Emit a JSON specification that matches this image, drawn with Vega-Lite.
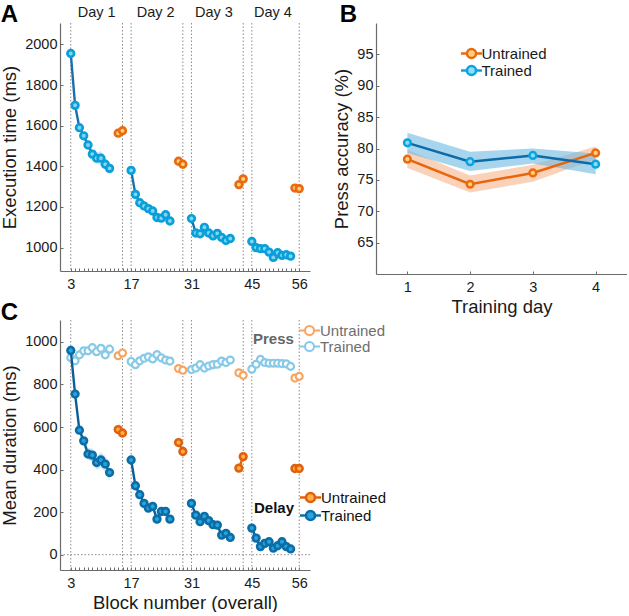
{
  "$schema": "https://vega.github.io/schema/vega-lite/v6.json",
  "background": "white",
  "padding": {"left": 0, "top": 2, "right": 0, "bottom": 0},
  "config": {
    "font": "Liberation Sans",
    "view": {"stroke": null},
    "axis": {"grid": false, "domainColor": "#6b6b6b", "domainWidth": 1.2, "tickColor": "#6b6b6b", "tickSize": -3, "labelFontSize": 14.5, "labelColor": "#1a1a1a", "titleFontSize": 18.5, "titleFontWeight": "normal", "titleColor": "#1a1a1a", "labelFont": "Liberation Sans", "titleFont": "Liberation Sans", "labelOverlap": false, "labelFlush": false, "format": "d"},
    "axisX": {"labelPadding": 9, "titlePadding": 4, "labelOverlap": false},
    "axisY": {"labelPadding": 6, "titlePadding": 5},
    "legend": {"labelFont": "Liberation Sans", "titleFont": "Liberation Sans"},
    "title": {"fontSize": 24, "fontWeight": "bold", "anchor": "start", "frame": "bounds", "color": "#000000", "font": "Liberation Sans"}
  },
  "datasets": {
    "vlines": [{"block": 3}, {"block": 15}, {"block": 17}, {"block": 29}, {"block": 31}, {"block": 43}, {"block": 45}, {"block": 56}],
    "zero": [{"ms": 0, "from": 0.5, "to": 58.5}],
    "days": [{"label": "Day 1", "block": 9}, {"label": "Day 2", "block": 22.7}, {"label": "Day 3", "block": 36.2}, {"label": "Day 4", "block": 49.9}],
    "exec": [
      {"block": 3, "day": 1, "cond": "Trained", "rt": 1955, "lo": 1943, "hi": 1967},
      {"block": 4, "day": 1, "cond": "Trained", "rt": 1700, "lo": 1688, "hi": 1712},
      {"block": 5, "day": 1, "cond": "Trained", "rt": 1590, "lo": 1578, "hi": 1602},
      {"block": 6, "day": 1, "cond": "Trained", "rt": 1550, "lo": 1536, "hi": 1564},
      {"block": 7, "day": 1, "cond": "Trained", "rt": 1505, "lo": 1490, "hi": 1520},
      {"block": 8, "day": 1, "cond": "Trained", "rt": 1460, "lo": 1440, "hi": 1480},
      {"block": 9, "day": 1, "cond": "Trained", "rt": 1440, "lo": 1412, "hi": 1468},
      {"block": 10, "day": 1, "cond": "Trained", "rt": 1440, "lo": 1405, "hi": 1475},
      {"block": 11, "day": 1, "cond": "Trained", "rt": 1410, "lo": 1380, "hi": 1440},
      {"block": 12, "day": 1, "cond": "Trained", "rt": 1390, "lo": 1360, "hi": 1420},
      {"block": 14, "day": 1, "cond": "Untrained", "rt": 1563, "lo": 1551, "hi": 1575},
      {"block": 15, "day": 1, "cond": "Untrained", "rt": 1575, "lo": 1563, "hi": 1587},
      {"block": 17, "day": 2, "cond": "Trained", "rt": 1380, "lo": 1368, "hi": 1392},
      {"block": 18, "day": 2, "cond": "Trained", "rt": 1262, "lo": 1250, "hi": 1274},
      {"block": 19, "day": 2, "cond": "Trained", "rt": 1221, "lo": 1209, "hi": 1233},
      {"block": 20, "day": 2, "cond": "Trained", "rt": 1205, "lo": 1193, "hi": 1217},
      {"block": 21, "day": 2, "cond": "Trained", "rt": 1192, "lo": 1180, "hi": 1204},
      {"block": 22, "day": 2, "cond": "Trained", "rt": 1180, "lo": 1168, "hi": 1192},
      {"block": 23, "day": 2, "cond": "Trained", "rt": 1148, "lo": 1136, "hi": 1160},
      {"block": 24, "day": 2, "cond": "Trained", "rt": 1145, "lo": 1133, "hi": 1157},
      {"block": 25, "day": 2, "cond": "Trained", "rt": 1162, "lo": 1150, "hi": 1174},
      {"block": 26, "day": 2, "cond": "Trained", "rt": 1131, "lo": 1119, "hi": 1143},
      {"block": 28, "day": 2, "cond": "Untrained", "rt": 1425, "lo": 1415, "hi": 1435},
      {"block": 29, "day": 2, "cond": "Untrained", "rt": 1410, "lo": 1400, "hi": 1420},
      {"block": 31, "day": 3, "cond": "Trained", "rt": 1143, "lo": 1131, "hi": 1155},
      {"block": 32, "day": 3, "cond": "Trained", "rt": 1072, "lo": 1060, "hi": 1084},
      {"block": 33, "day": 3, "cond": "Trained", "rt": 1068, "lo": 1056, "hi": 1080},
      {"block": 34, "day": 3, "cond": "Trained", "rt": 1100, "lo": 1088, "hi": 1112},
      {"block": 35, "day": 3, "cond": "Trained", "rt": 1072, "lo": 1060, "hi": 1084},
      {"block": 36, "day": 3, "cond": "Trained", "rt": 1058, "lo": 1046, "hi": 1070},
      {"block": 37, "day": 3, "cond": "Trained", "rt": 1070, "lo": 1058, "hi": 1082},
      {"block": 38, "day": 3, "cond": "Trained", "rt": 1050, "lo": 1038, "hi": 1062},
      {"block": 39, "day": 3, "cond": "Trained", "rt": 1035, "lo": 1023, "hi": 1047},
      {"block": 40, "day": 3, "cond": "Trained", "rt": 1045, "lo": 1033, "hi": 1057},
      {"block": 42, "day": 3, "cond": "Untrained", "rt": 1310, "lo": 1300, "hi": 1320},
      {"block": 43, "day": 3, "cond": "Untrained", "rt": 1338, "lo": 1328, "hi": 1348},
      {"block": 45, "day": 4, "cond": "Trained", "rt": 1030, "lo": 1018, "hi": 1042},
      {"block": 46, "day": 4, "cond": "Trained", "rt": 1000, "lo": 988, "hi": 1012},
      {"block": 47, "day": 4, "cond": "Trained", "rt": 995, "lo": 983, "hi": 1007},
      {"block": 48, "day": 4, "cond": "Trained", "rt": 995, "lo": 983, "hi": 1007},
      {"block": 49, "day": 4, "cond": "Trained", "rt": 978, "lo": 966, "hi": 990},
      {"block": 50, "day": 4, "cond": "Trained", "rt": 952, "lo": 938, "hi": 966},
      {"block": 51, "day": 4, "cond": "Trained", "rt": 975, "lo": 961, "hi": 989},
      {"block": 52, "day": 4, "cond": "Trained", "rt": 962, "lo": 946, "hi": 978},
      {"block": 53, "day": 4, "cond": "Trained", "rt": 965, "lo": 949, "hi": 981},
      {"block": 54, "day": 4, "cond": "Trained", "rt": 958, "lo": 942, "hi": 974},
      {"block": 55, "day": 4, "cond": "Untrained", "rt": 1293, "lo": 1283, "hi": 1303},
      {"block": 56, "day": 4, "cond": "Untrained", "rt": 1290, "lo": 1280, "hi": 1300}
    ],
    "acc": [
      {"day": 1, "cond": "Untrained", "acc": 78.3, "lo": 76.9, "hi": 79.8},
      {"day": 2, "cond": "Untrained", "acc": 74.3, "lo": 73.0, "hi": 75.7},
      {"day": 3, "cond": "Untrained", "acc": 76.1, "lo": 74.7, "hi": 77.4},
      {"day": 4, "cond": "Untrained", "acc": 79.3, "lo": 78.3, "hi": 80.3},
      {"day": 1, "cond": "Trained", "acc": 80.9, "lo": 79.3, "hi": 82.5},
      {"day": 2, "cond": "Trained", "acc": 77.9, "lo": 76.4, "hi": 79.5},
      {"day": 3, "cond": "Trained", "acc": 78.9, "lo": 77.6, "hi": 80.0},
      {"day": 4, "cond": "Trained", "acc": 77.5, "lo": 75.9, "hi": 79.2}
    ],
    "press": [
      {"block": 3, "day": 1, "cond": "Trained", "ms": 926},
      {"block": 4, "day": 1, "cond": "Trained", "ms": 911},
      {"block": 5, "day": 1, "cond": "Trained", "ms": 939},
      {"block": 6, "day": 1, "cond": "Trained", "ms": 958},
      {"block": 7, "day": 1, "cond": "Trained", "ms": 958},
      {"block": 8, "day": 1, "cond": "Trained", "ms": 973},
      {"block": 9, "day": 1, "cond": "Trained", "ms": 954},
      {"block": 10, "day": 1, "cond": "Trained", "ms": 970},
      {"block": 11, "day": 1, "cond": "Trained", "ms": 939},
      {"block": 12, "day": 1, "cond": "Trained", "ms": 966},
      {"block": 14, "day": 1, "cond": "Untrained", "ms": 935},
      {"block": 15, "day": 1, "cond": "Untrained", "ms": 948},
      {"block": 17, "day": 2, "cond": "Trained", "ms": 908},
      {"block": 18, "day": 2, "cond": "Trained", "ms": 893},
      {"block": 19, "day": 2, "cond": "Trained", "ms": 911},
      {"block": 20, "day": 2, "cond": "Trained", "ms": 923},
      {"block": 21, "day": 2, "cond": "Trained", "ms": 930},
      {"block": 22, "day": 2, "cond": "Trained", "ms": 920},
      {"block": 23, "day": 2, "cond": "Trained", "ms": 940},
      {"block": 24, "day": 2, "cond": "Trained", "ms": 925},
      {"block": 25, "day": 2, "cond": "Trained", "ms": 915},
      {"block": 26, "day": 2, "cond": "Trained", "ms": 910},
      {"block": 28, "day": 2, "cond": "Untrained", "ms": 875},
      {"block": 29, "day": 2, "cond": "Untrained", "ms": 867},
      {"block": 31, "day": 3, "cond": "Trained", "ms": 870},
      {"block": 32, "day": 3, "cond": "Trained", "ms": 877},
      {"block": 33, "day": 3, "cond": "Trained", "ms": 893},
      {"block": 34, "day": 3, "cond": "Trained", "ms": 877},
      {"block": 35, "day": 3, "cond": "Trained", "ms": 887},
      {"block": 36, "day": 3, "cond": "Trained", "ms": 893},
      {"block": 37, "day": 3, "cond": "Trained", "ms": 895},
      {"block": 38, "day": 3, "cond": "Trained", "ms": 910},
      {"block": 39, "day": 3, "cond": "Trained", "ms": 903},
      {"block": 40, "day": 3, "cond": "Trained", "ms": 915},
      {"block": 42, "day": 3, "cond": "Untrained", "ms": 855},
      {"block": 43, "day": 3, "cond": "Untrained", "ms": 843},
      {"block": 45, "day": 4, "cond": "Trained", "ms": 872},
      {"block": 46, "day": 4, "cond": "Trained", "ms": 895},
      {"block": 47, "day": 4, "cond": "Trained", "ms": 918},
      {"block": 48, "day": 4, "cond": "Trained", "ms": 903},
      {"block": 49, "day": 4, "cond": "Trained", "ms": 900},
      {"block": 50, "day": 4, "cond": "Trained", "ms": 900},
      {"block": 51, "day": 4, "cond": "Trained", "ms": 900},
      {"block": 52, "day": 4, "cond": "Trained", "ms": 898},
      {"block": 53, "day": 4, "cond": "Trained", "ms": 897},
      {"block": 54, "day": 4, "cond": "Trained", "ms": 885},
      {"block": 55, "day": 4, "cond": "Untrained", "ms": 830},
      {"block": 56, "day": 4, "cond": "Untrained", "ms": 838}
    ],
    "delay": [
      {"block": 3, "day": 1, "cond": "Trained", "ms": 960, "lo": 945, "hi": 975},
      {"block": 4, "day": 1, "cond": "Trained", "ms": 755, "lo": 735, "hi": 775},
      {"block": 5, "day": 1, "cond": "Trained", "ms": 585, "lo": 565, "hi": 605},
      {"block": 6, "day": 1, "cond": "Trained", "ms": 535, "lo": 512, "hi": 558},
      {"block": 7, "day": 1, "cond": "Trained", "ms": 473, "lo": 445, "hi": 501},
      {"block": 8, "day": 1, "cond": "Trained", "ms": 468, "lo": 436, "hi": 500},
      {"block": 9, "day": 1, "cond": "Trained", "ms": 433, "lo": 400, "hi": 466},
      {"block": 10, "day": 1, "cond": "Trained", "ms": 445, "lo": 408, "hi": 482},
      {"block": 11, "day": 1, "cond": "Trained", "ms": 426, "lo": 388, "hi": 464},
      {"block": 12, "day": 1, "cond": "Trained", "ms": 386, "lo": 345, "hi": 427},
      {"block": 14, "day": 1, "cond": "Untrained", "ms": 588, "lo": 555, "hi": 621},
      {"block": 15, "day": 1, "cond": "Untrained", "ms": 572, "lo": 547, "hi": 597},
      {"block": 17, "day": 2, "cond": "Trained", "ms": 445, "lo": 430, "hi": 460},
      {"block": 18, "day": 2, "cond": "Trained", "ms": 324, "lo": 309, "hi": 339},
      {"block": 19, "day": 2, "cond": "Trained", "ms": 282, "lo": 267, "hi": 297},
      {"block": 20, "day": 2, "cond": "Trained", "ms": 241, "lo": 226, "hi": 256},
      {"block": 21, "day": 2, "cond": "Trained", "ms": 219, "lo": 204, "hi": 234},
      {"block": 22, "day": 2, "cond": "Trained", "ms": 227, "lo": 212, "hi": 242},
      {"block": 23, "day": 2, "cond": "Trained", "ms": 167, "lo": 152, "hi": 182},
      {"block": 24, "day": 2, "cond": "Trained", "ms": 203, "lo": 188, "hi": 218},
      {"block": 25, "day": 2, "cond": "Trained", "ms": 203, "lo": 188, "hi": 218},
      {"block": 26, "day": 2, "cond": "Trained", "ms": 167, "lo": 152, "hi": 182},
      {"block": 28, "day": 2, "cond": "Untrained", "ms": 527, "lo": 517, "hi": 537},
      {"block": 29, "day": 2, "cond": "Untrained", "ms": 485, "lo": 475, "hi": 495},
      {"block": 31, "day": 3, "cond": "Trained", "ms": 241, "lo": 226, "hi": 256},
      {"block": 32, "day": 3, "cond": "Trained", "ms": 186, "lo": 171, "hi": 201},
      {"block": 33, "day": 3, "cond": "Trained", "ms": 155, "lo": 140, "hi": 170},
      {"block": 34, "day": 3, "cond": "Trained", "ms": 180, "lo": 165, "hi": 195},
      {"block": 35, "day": 3, "cond": "Trained", "ms": 160, "lo": 145, "hi": 175},
      {"block": 36, "day": 3, "cond": "Trained", "ms": 141, "lo": 126, "hi": 156},
      {"block": 37, "day": 3, "cond": "Trained", "ms": 139, "lo": 124, "hi": 154},
      {"block": 38, "day": 3, "cond": "Trained", "ms": 92, "lo": 77, "hi": 107},
      {"block": 39, "day": 3, "cond": "Trained", "ms": 100, "lo": 85, "hi": 115},
      {"block": 40, "day": 3, "cond": "Trained", "ms": 81, "lo": 66, "hi": 96},
      {"block": 42, "day": 3, "cond": "Untrained", "ms": 407, "lo": 397, "hi": 417},
      {"block": 43, "day": 3, "cond": "Untrained", "ms": 461, "lo": 451, "hi": 471},
      {"block": 45, "day": 4, "cond": "Trained", "ms": 125, "lo": 110, "hi": 140},
      {"block": 46, "day": 4, "cond": "Trained", "ms": 78, "lo": 63, "hi": 93},
      {"block": 47, "day": 4, "cond": "Trained", "ms": 38, "lo": 23, "hi": 53},
      {"block": 48, "day": 4, "cond": "Trained", "ms": 53, "lo": 38, "hi": 68},
      {"block": 49, "day": 4, "cond": "Trained", "ms": 61, "lo": 46, "hi": 76},
      {"block": 50, "day": 4, "cond": "Trained", "ms": 31, "lo": 14, "hi": 48},
      {"block": 51, "day": 4, "cond": "Trained", "ms": 42, "lo": 25, "hi": 59},
      {"block": 52, "day": 4, "cond": "Trained", "ms": 61, "lo": 44, "hi": 78},
      {"block": 53, "day": 4, "cond": "Trained", "ms": 38, "lo": 20, "hi": 56},
      {"block": 54, "day": 4, "cond": "Trained", "ms": 27, "lo": 8, "hi": 46},
      {"block": 55, "day": 4, "cond": "Untrained", "ms": 405, "lo": 395, "hi": 415},
      {"block": 56, "day": 4, "cond": "Untrained", "ms": 405, "lo": 395, "hi": 415}
    ]
  },
  "columns": 2,
  "spacing": {"row": 46, "column": 66},
  "bounds": "flush",
  "concat": [
    {
      "width": 250,
      "height": 248,
      "title": {"text": "A", "offset": -22},
      "encoding": {
        "x": {"field": "block", "type": "quantitative", "scale": {"domain": [0.5, 58.5]}, "axis": {"values": [3,4,5,6,7,8,9,10,11,12,13,14,15,16,17,18,19,20,21,22,23,24,25,26,27,28,29,30,31,32,33,34,35,36,37,38,39,40,41,42,43,44,45,46,47,48,49,50,51,52,53,54,55,56], "labelExpr": "(datum.value == 3 || datum.value == 17 || datum.value == 31 || datum.value == 45 || datum.value == 56) ? datum.label : ''", "title": null, "labelFlush": false, "labelOverlap": false, "labelBound": false}}
      },
      "layer": [
        {
          "data": {"name": "vlines"},
          "mark": {"type": "rule", "color": "#8a8a8a", "strokeWidth": 1, "strokeDash": [1.5, 2]}
        },
        {
          "data": {"name": "exec"},
          "mark": {"type": "area", "opacity": 0.45},
          "encoding": {
            "y": {"field": "lo", "type": "quantitative", "stack": null, "scale": {"domain": [885, 2105]}, "axis": {"values": [1000, 1200, 1400, 1600, 1800, 2000], "title": "Execution time (ms)"}},
            "y2": {"field": "hi"},
            "fill": {"field": "cond", "type": "nominal", "scale": {"domain": ["Untrained", "Trained"], "range": ["#f7b07a", "#8fd0ef"]}, "legend": null},
            "detail": {"field": "day", "type": "nominal"}
          }
        },
        {
          "data": {"name": "exec"},
          "mark": {"type": "line", "strokeWidth": 2.4},
          "encoding": {
            "y": {"field": "rt", "type": "quantitative", "scale": {"domain": [885, 2105]}, "axis": {"values": [1000, 1200, 1400, 1600, 1800, 2000], "title": "Execution time (ms)"}},
            "color": {"field": "cond", "type": "nominal", "scale": {"domain": ["Untrained", "Trained"], "range": ["#ea6a10", "#1a6fae"]}, "legend": null},
            "detail": {"field": "day", "type": "nominal"}
          }
        },
        {
          "data": {"name": "exec"},
          "mark": {"type": "point", "filled": true, "size": 44, "strokeWidth": 2.7, "opacity": 1},
          "encoding": {
            "y": {"field": "rt", "type": "quantitative", "scale": {"domain": [885, 2105]}, "axis": {"values": [1000, 1200, 1400, 1600, 1800, 2000], "title": "Execution time (ms)"}},
            "stroke": {"field": "cond", "type": "nominal", "scale": {"domain": ["Untrained", "Trained"], "range": ["#ea6a10", "#0a9fd8"]}, "legend": null},
            "fill": {"field": "cond", "type": "nominal", "scale": {"domain": ["Untrained", "Trained"], "range": ["#ffd27a", "#7fd6f5"]}, "legend": null}
          }
        },
        {
          "data": {"name": "days"},
          "mark": {"type": "text", "fontSize": 14.5, "baseline": "middle", "align": "center", "color": "#1a1a1a"},
          "encoding": {
            "y": {"datum": 2155, "type": "quantitative", "scale": {"domain": [885, 2105]}, "axis": {"values": [1000, 1200, 1400, 1600, 1800, 2000], "title": "Execution time (ms)"}},
            "text": {"field": "label"}
          }
        }
      ],
      "resolve": {"scale": {"fill": "independent", "stroke": "independent", "color": "independent"}}
    },
    {
      "width": 251,
      "height": 251,
      "title": {"text": "B", "offset": -4, "dx": 7},
      "data": {"name": "acc"},
      "encoding": {
        "x": {"field": "day", "type": "quantitative", "scale": {"domain": [0.5, 4.5]}, "axis": {"values": [1, 2, 3, 4], "title": "Training day"}}
      },
      "layer": [
        {
          "mark": {"type": "area", "opacity": 0.6},
          "encoding": {
            "y": {"field": "lo", "type": "quantitative", "stack": null, "scale": {"domain": [60, 100]}, "axis": {"values": [65, 70, 75, 80, 85, 90, 95], "title": "Press accuracy (%)"}},
            "y2": {"field": "hi"},
            "fill": {"field": "cond", "type": "nominal", "scale": {"domain": ["Untrained", "Trained"], "range": ["#f7b48c", "#6db9e3"]}, "legend": null}
          }
        },
        {
          "mark": {"type": "line", "strokeWidth": 2.5},
          "encoding": {
            "y": {"field": "acc", "type": "quantitative", "scale": {"domain": [60, 100]}, "axis": {"values": [65, 70, 75, 80, 85, 90, 95], "title": "Press accuracy (%)"}},
            "color": {"field": "cond", "type": "nominal", "scale": {"domain": ["Untrained", "Trained"], "range": ["#e8650a", "#0e6aa8"]}, "legend": null}
          }
        },
        {
          "mark": {"type": "point", "filled": true, "size": 45, "strokeWidth": 2.5, "opacity": 1},
          "encoding": {
            "y": {"field": "acc", "type": "quantitative", "scale": {"domain": [60, 100]}, "axis": {"values": [65, 70, 75, 80, 85, 90, 95], "title": "Press accuracy (%)"}},
            "stroke": {"field": "cond", "type": "nominal", "scale": {"domain": ["Untrained", "Trained"], "range": ["#ea6a10", "#0aa4df"]},
              "legend": {"title": null, "orient": "none", "legendX": 88, "legendY": 23, "labelFontSize": 15, "labelColor": "#1a1a1a", "labelOffset": 2.5, "symbolType": "M-1.75,0L-0.75,0M0.75,0L1.75,0M0.75,0A0.75,0.75,0,1,1,-0.75,0A0.75,0.75,0,1,1,0.75,0Z", "symbolSize": 144, "symbolStrokeWidth": 2.5, "rowPadding": -2}},
            "fill": {"field": "cond", "type": "nominal", "scale": {"domain": ["Untrained", "Trained"], "range": ["#ffd27a", "#8fdcf5"]},
              "legend": {"title": null, "orient": "none", "legendX": 88, "legendY": 23, "labelFontSize": 15, "labelColor": "#1a1a1a", "labelOffset": 2.5, "symbolType": "M-1.75,0L-0.75,0M0.75,0L1.75,0M0.75,0A0.75,0.75,0,1,1,-0.75,0A0.75,0.75,0,1,1,0.75,0Z", "symbolSize": 144, "symbolStrokeWidth": 2.5, "rowPadding": -2}}
          }
        }
      ],
      "resolve": {"scale": {"fill": "independent", "stroke": "independent", "color": "independent"}}
    },
    {
      "width": 250,
      "height": 250,
      "title": {"text": "C", "offset": -5},
      "encoding": {
        "x": {"field": "block", "type": "quantitative", "scale": {"domain": [0.5, 58.5]}, "axis": {"values": [3,4,5,6,7,8,9,10,11,12,13,14,15,16,17,18,19,20,21,22,23,24,25,26,27,28,29,30,31,32,33,34,35,36,37,38,39,40,41,42,43,44,45,46,47,48,49,50,51,52,53,54,55,56], "labelExpr": "(datum.value == 3 || datum.value == 17 || datum.value == 31 || datum.value == 45 || datum.value == 56) ? datum.label : ''", "title": "Block number (overall)", "labelFlush": false, "labelOverlap": false, "labelBound": false}}
      },
      "layer": [
        {
          "data": {"name": "vlines"},
          "mark": {"type": "rule", "color": "#8a8a8a", "strokeWidth": 1, "strokeDash": [1.5, 2]}
        },
        {
          "data": {"name": "zero"},
          "mark": {"type": "rule", "color": "#8a8a8a", "strokeWidth": 1, "strokeDash": [1.5, 2]},
          "encoding": {
            "x": {"field": "from", "type": "quantitative"},
            "x2": {"field": "to"},
            "y": {"field": "ms", "type": "quantitative", "scale": {"domain": [-72, 1103]}, "axis": {"values": [0, 200, 400, 600, 800, 1000], "title": "Mean duration (ms)"}}
          }
        },
        {
          "data": {"name": "press"},
          "mark": {"type": "line", "strokeWidth": 1.5},
          "encoding": {
            "y": {"field": "ms", "type": "quantitative", "scale": {"domain": [-72, 1103]}, "axis": {"values": [0, 200, 400, 600, 800, 1000], "title": "Mean duration (ms)"}},
            "color": {"field": "cond", "type": "nominal", "scale": {"domain": ["Untrained", "Trained"], "range": ["#f6a562", "#87c9e8"]}, "legend": null},
            "detail": {"field": "day", "type": "nominal"}
          }
        },
        {
          "data": {"name": "press"},
          "mark": {"type": "point", "filled": true, "size": 48, "strokeWidth": 2.2, "opacity": 1, "fill": "white"},
          "encoding": {
            "y": {"field": "ms", "type": "quantitative", "scale": {"domain": [-72, 1103]}, "axis": {"values": [0, 200, 400, 600, 800, 1000], "title": "Mean duration (ms)"}},
            "stroke": {"field": "cond", "type": "nominal", "sort": "descending", "scale": {"range": ["#f6a562", "#87c9e8"]},
              "legend": {"title": "Press", "orient": "none", "legendX": 193, "legendY": 3, "titleOrient": "left", "titleAnchor": "middle", "titleBaseline": "middle", "titleFontSize": 15, "titleFontWeight": "bold", "titleColor": "#666666", "titlePadding": 8, "labelFontSize": 15, "labelColor": "#6e6e6e", "labelOffset": 3, "symbolType": "M-1.75,0L-0.75,0M0.75,0L1.75,0M0.75,0A0.75,0.75,0,1,1,-0.75,0A0.75,0.75,0,1,1,0.75,0Z", "symbolSize": 144, "symbolStrokeWidth": 2, "rowPadding": -1,
                "encode": {"symbols": {"update": {"fill": {"value": "white"}}}}}}
          }
        },
        {
          "data": {"name": "delay"},
          "mark": {"type": "area", "opacity": 0.4},
          "encoding": {
            "y": {"field": "lo", "type": "quantitative", "stack": null, "scale": {"domain": [-72, 1103]}, "axis": {"values": [0, 200, 400, 600, 800, 1000], "title": "Mean duration (ms)"}},
            "y2": {"field": "hi"},
            "fill": {"field": "cond", "type": "nominal", "scale": {"domain": ["Untrained", "Trained"], "range": ["#f7a88a", "#8cc8e8"]}, "legend": null},
            "detail": {"field": "day", "type": "nominal"}
          }
        },
        {
          "data": {"name": "delay"},
          "mark": {"type": "line", "strokeWidth": 2.4},
          "encoding": {
            "y": {"field": "ms", "type": "quantitative", "scale": {"domain": [-72, 1103]}, "axis": {"values": [0, 200, 400, 600, 800, 1000], "title": "Mean duration (ms)"}},
            "color": {"field": "cond", "type": "nominal", "scale": {"domain": ["Untrained", "Trained"], "range": ["#e0600c", "#0b5f97"]}, "legend": null},
            "detail": {"field": "day", "type": "nominal"}
          }
        },
        {
          "data": {"name": "delay"},
          "mark": {"type": "point", "filled": true, "size": 45, "strokeWidth": 2.6, "opacity": 1},
          "encoding": {
            "y": {"field": "ms", "type": "quantitative", "scale": {"domain": [-72, 1103]}, "axis": {"values": [0, 200, 400, 600, 800, 1000], "title": "Mean duration (ms)"}},
            "stroke": {"field": "cond", "type": "nominal", "sort": "descending", "scale": {"range": ["#e0600c", "#0b6da6"]},
              "legend": {"title": "Delay", "orient": "none", "legendX": 194, "legendY": 170, "titleOrient": "left", "titleAnchor": "middle", "titleBaseline": "middle", "titleFontSize": 15, "titleFontWeight": "bold", "titleColor": "#111111", "titlePadding": 8, "labelFontSize": 15, "labelColor": "#111111", "labelOffset": 3, "symbolType": "M-1.75,0L-0.75,0M0.75,0L1.75,0M0.75,0A0.75,0.75,0,1,1,-0.75,0A0.75,0.75,0,1,1,0.75,0Z", "symbolSize": 144, "symbolStrokeWidth": 2.6, "rowPadding": -6}},
            "fill": {"field": "cond", "type": "nominal", "sort": "descending", "scale": {"range": ["#ffb04a", "#2aa2dc"]},
              "legend": {"title": "Delay", "orient": "none", "legendX": 194, "legendY": 170, "titleOrient": "left", "titleAnchor": "middle", "titleBaseline": "middle", "titleFontSize": 15, "titleFontWeight": "bold", "titleColor": "#111111", "titlePadding": 8, "labelFontSize": 15, "labelColor": "#111111", "labelOffset": 3, "symbolType": "M-1.75,0L-0.75,0M0.75,0L1.75,0M0.75,0A0.75,0.75,0,1,1,-0.75,0A0.75,0.75,0,1,1,0.75,0Z", "symbolSize": 144, "symbolStrokeWidth": 2.6, "rowPadding": -6}}
          }
        }
      ],
      "resolve": {"scale": {"fill": "independent", "stroke": "independent", "color": "independent"}}
    }
  ]
}
